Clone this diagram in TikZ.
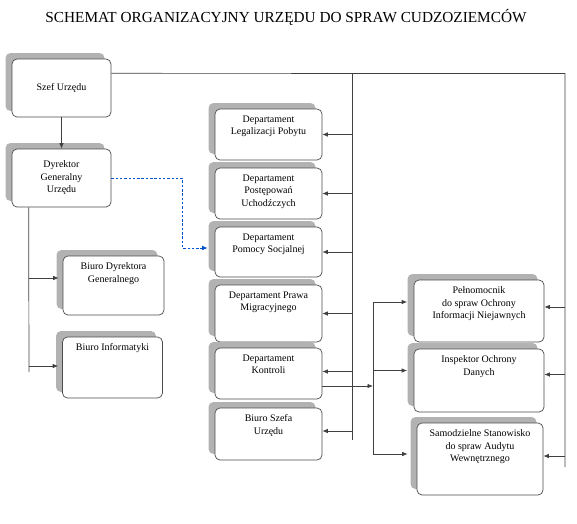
\documentclass[tikz,border=0pt]{standalone}
\usepackage{fontspec}
\setmainfont{Liberation Serif}
\usetikzlibrary{positioning,shadows,arrows.meta,calc}
\tikzset{
  orgbox/.style={draw=black!70, fill=white, rounded corners=5pt, line width=0.7pt,
    inner sep=0pt, align=center, font=\fontsize{10}{12.5}\selectfont,
    copy shadow={shadow xshift=-6.5pt, shadow yshift=6pt, fill=black!30, draw=none}},
  boxtext/.style={align=center, inner sep=0pt, font=\fontsize{10}{12.5}\selectfont},
  link/.style={draw=black!75, line width=0.7pt},
  arr/.style={link, -{Latex[length=5.5pt,width=4.5pt]}},
  blue dash/.style={draw=blue!60!cyan!80!black, line width=0.7pt, dash pattern=on 2.5pt off 1.8pt,
    -{Latex[length=5.5pt,width=4.5pt]}}
}
\begin{document}
\begin{tikzpicture}[x=1pt,y=-1pt]
  \useasboundingbox (0,0) rectangle (577,523);
  \node[font=\fontsize{15.3}{17}\selectfont] (title) at (286,17)
    {SCHEMAT ORGANIZACYJNY URZĘDU DO SPRAW CUDZOZIEMCÓW};

  % lewa kolumna
  \node[orgbox, minimum width=99pt, minimum height=58pt] (szef) at (61.5,88) {Szef Urzędu};
  \node[orgbox, minimum width=99pt, minimum height=58pt] (dyr) at (61.5,178)
    {Dyrektor\\Generalny\\Urzędu};
  \node[orgbox, minimum width=101pt, minimum height=59pt] (bdg) at (113.5,285.5) {};
  \node[boxtext, below=7pt of bdg.north] (bdg-t) {Biuro Dyrektora\\Generalnego};
  \node[orgbox, minimum width=100pt, minimum height=61pt] (binf) at (112.5,367.5) {};
  \node[boxtext, below=7pt of binf.north] (binf-t) {Biuro Informatyki};

  % departamenty
  \node[orgbox, minimum width=107pt, minimum height=51pt] (legal) at (268.5,134.5) {};
  \node[boxtext, below=7pt of legal.north] (legal-t) {Departament\\Legalizacji Pobytu};
  \node[orgbox, minimum width=107pt, minimum height=51pt] (post) at (268.5,193.5) {};
  \node[boxtext, below=7pt of post.north] (post-t) {Departament\\Postępowań\\Uchodźczych};
  \node[orgbox, minimum width=107pt, minimum height=50pt] (pomoc) at (268.5,252) {};
  \node[boxtext, below=7pt of pomoc.north] (pomoc-t) {Departament\\Pomocy Socjalnej};
  \node[orgbox, minimum width=107pt, minimum height=57pt] (prawa) at (268.5,313.5) {};
  \node[boxtext, below=7pt of prawa.north] (prawa-t) {Departament Prawa\\Migracyjnego};
  \node[orgbox, minimum width=107pt, minimum height=51pt] (kontr) at (268.5,373.5) {};
  \node[boxtext, below=7pt of kontr.north] (kontr-t) {Departament\\Kontroli};
  \node[orgbox, minimum width=107pt, minimum height=52pt] (bszef) at (268.5,434) {};
  \node[boxtext, below=7pt of bszef.north] (bszef-t) {Biuro Szefa\\Urzędu};

  % stanowiska
  \node[orgbox, minimum width=130pt, minimum height=62pt] (pelno) at (479,311) {};
  \node[boxtext, below=7pt of pelno.north] (pelno-t)
    {Pełnomocnik\\do spraw Ochrony\\Informacji Niejawnych};
  \node[orgbox, minimum width=130pt, minimum height=63pt] (insp) at (479,380.5) {};
  \node[boxtext, below=7pt of insp.north] (insp-t) {Inspektor Ochrony\\Danych};
  \node[orgbox, minimum width=126pt, minimum height=72pt] (audyt) at (480,459) {};
  \node[boxtext, below=7pt of audyt.north] (audyt-t)
    {Samodzielne Stanowisko\\do spraw Audytu\\Wewnętrznego};

  \coordinate (topline) at ($(szef.north east)!0.25!(szef.south east)$);
  \coordinate (mbus) at (352,73.5);
  \coordinate (mbusend) at (352,440);
  \coordinate (rbus) at (565,73.5);
  \coordinate (rbusend) at (565,467);
  \coordinate (lbus) at (373,302);
  \coordinate (lbusend) at (373,455);
  \coordinate (dbus) at ($(dyr.south west)+(17,0)$);
  \coordinate (dbusend) at (29,372);
  \coordinate (dashbend) at (182,178);

  \draw[arr] (szef) -- (dyr);
  \draw[link] (topline) -- (rbus) -- (rbusend);
  \draw[link] (mbus) -- (mbusend);
  \draw[link] (lbus) -- (lbusend);
  \draw[link] (dbus) -- (dbusend);

  \draw[arr] (legal.east -| mbus) -- (legal.east);
  \draw[arr] (post.east -| mbus) -- (post.east);
  \draw[arr] (pomoc.east -| mbus) -- (pomoc.east);
  \draw[arr] (prawa.east -| mbus) -- (prawa.east);
  \draw[arr] ([yshift=2pt]kontr.east -| mbus) -- ([yshift=2pt]kontr.east);
  \draw[arr] ([yshift=3pt]bszef.east -| mbus) -- ([yshift=3pt]bszef.east);

  \draw[arr] ([yshift=4pt]pelno.east -| rbus) -- ([yshift=4pt]pelno.east);
  \draw[arr] ([yshift=6pt]insp.east -| rbus) -- ([yshift=6pt]insp.east);
  \draw[arr] ([yshift=3pt]audyt.east -| rbus) -- ([yshift=3pt]audyt.east);

  \draw[arr] ([yshift=-12.5pt]kontr.east) -- ([yshift=-12.5pt]kontr.east -| lbus);
  \draw[arr, shorten >=6.5pt] ([yshift=9pt]pelno.west -| lbus) -- ([yshift=9pt]pelno.west);
  \draw[arr, shorten >=6.5pt] ([yshift=10pt]insp.west -| lbus) -- ([yshift=10pt]insp.west);
  \draw[arr, shorten >=9pt] ([yshift=5pt]audyt.west -| lbus) -- ([yshift=5pt]audyt.west);

  \draw[arr, shorten >=4pt] ([yshift=7.5pt]bdg.west -| dbus) -- ([yshift=7.5pt]bdg.west);
  \draw[arr, shorten >=4pt] ([yshift=1.5pt]binf.west -| dbus) -- ([yshift=1.5pt]binf.west);

  \draw[blue dash, shorten >=7pt] (dyr.east) -- (dashbend)
    |- ([yshift=4pt]pomoc.west);
\end{tikzpicture}
\end{document}
